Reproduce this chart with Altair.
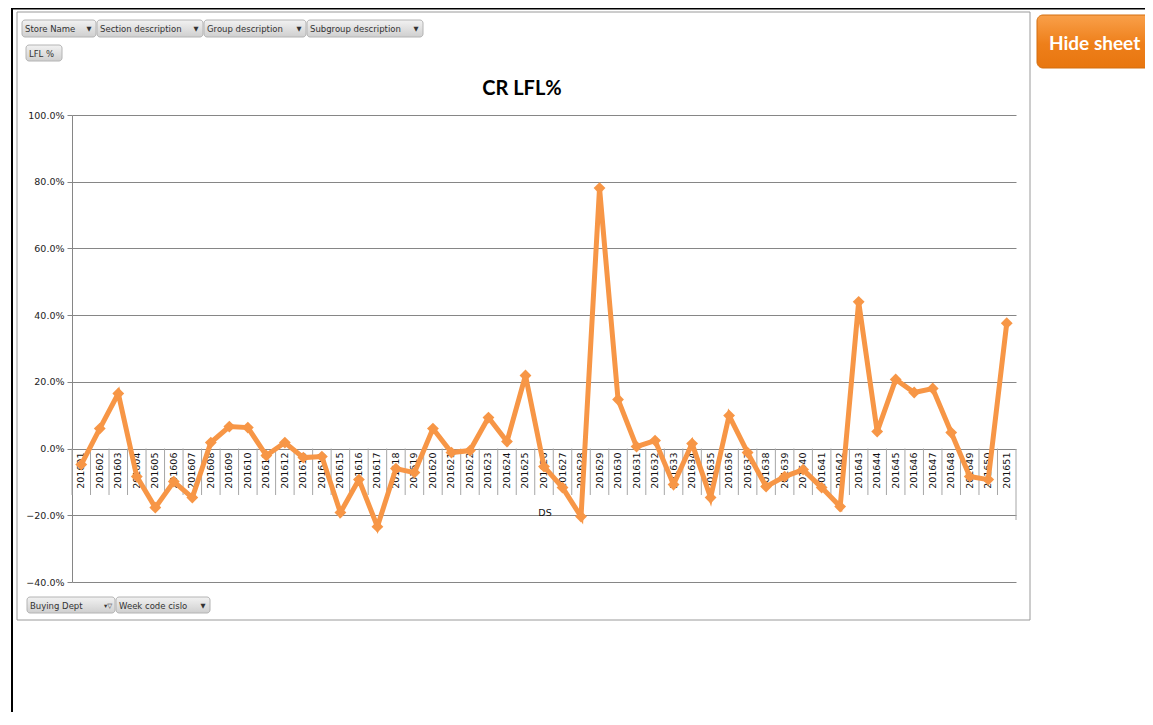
import altair as alt
import pandas as pd

# ---------------- data ----------------
weeks = ["201601", "201602", "201603", "201604", "201605", "201606", "201607",
         "201608", "201609", "201610", "201611", "201612", "201613", "201614",
         "201615", "201616", "201617", "201618", "201619", "201620", "201621",
         "201622", "201623", "201624", "201625", "201626", "201627", "201628",
         "201629", "201630", "201631", "201632", "201633", "201634", "201635",
         "201636", "201637", "201638", "201639", "201640", "201641", "201642",
         "201643", "201644", "201645", "201646", "201647", "201648", "201649",
         "201650", "201651"]
lfl = [-4.8, 6.0, 16.5, -8.4, -17.7, -9.9, -14.7, 1.8, 6.6, 6.3, -2.1, 1.8,
       -2.7, -2.4, -19.2, -9.3, -23.4, -6.0, -7.2, 6.0, -1.2, -0.6, 9.3, 2.1,
       21.9, -5.4, -11.7, -20.4, 78.1, 14.7, 0.6, 2.4, -10.8, 1.5, -14.7, 9.9,
       -1.2, -11.4, -8.4, -6.3, -11.7, -17.4, 44.0, 5.1, 20.7, 16.8, 18.0, 4.8,
       -8.4, -9.3, 37.6]
y_ticks = [-40, -20, 0, 20, 40, 60, 80, 100]
dept = "DS"
chart_title = "CR LFL%"

df = pd.DataFrame({"week": weeks, "value": lfl})

# ---------------- layout ----------------
W, H = 944, 467
OX, OY = 72, 115          # page position of plot origin
ORANGE = "#F79646"
GRID = "#868686"
ZERO_PX = H * 100 / 140   # pixel row of the 0% line

band = alt.Scale(type="band", paddingInner=0, paddingOuter=0)
xenc = alt.X("week:N", sort=weeks, scale=band, axis=None)
yscale = alt.Scale(domain=[-40, 100], nice=False, zero=False)

base = alt.Chart(df)

sep = base.mark_rule(color="#a6a6a6", strokeWidth=1).encode(
    x=alt.X("week:N", sort=weeks, bandPosition=0, scale=band, axis=None),
    y=alt.value(ZERO_PX),
    y2=alt.value(495 - OY),
)

labels = base.mark_text(angle=270, align="right", baseline="middle", dx=-4,
                        font="DejaVu Sans", fontSize=9.5, color="#111111").encode(
    x=xenc, y=alt.value(ZERO_PX), text="week:N")

line = base.mark_line(color=ORANGE, strokeWidth=5, strokeJoin="miter").encode(
    x=xenc,
    y=alt.Y("value:Q", scale=yscale,
            axis=alt.Axis(values=y_ticks,
                          labelExpr="format(datum.value, '.1f') + '%'",
                          grid=True, gridColor=GRID, gridWidth=1,
                          domainColor=GRID, tickColor=GRID, tickSize=5,
                          labelPadding=3, labelFont="DejaVu Sans",
                          labelFontSize=9.5, labelColor="#222222",
                          title=None)),
)
points = base.mark_point(shape="diamond", filled=True, size=140, opacity=1,
                         color=ORANGE).encode(x=xenc, y=alt.Y("value:Q", scale=yscale))

one = alt.Data(values=[{"k": 1}])


def rect(x0, y0, x1, y1, **kw):
    return alt.Chart(one).mark_rect(**kw).encode(
        x=alt.value(x0 - OX), x2=alt.value(x1 - OX),
        y=alt.value(y0 - OY), y2=alt.value(y1 - OY))


def text(x, y, s, **kw):
    return alt.Chart(one).mark_text(**kw).encode(
        x=alt.value(x - OX), y=alt.value(y - OY), text=alt.value(s))


def vrule(x, y0, y1, **kw):
    return alt.Chart(one).mark_rule(**kw).encode(
        x=alt.value(x - OX), y=alt.value(y0 - OY), y2=alt.value(y1 - OY))


def hrule(x0, x1, y, **kw):
    return alt.Chart(one).mark_rule(**kw).encode(
        x=alt.value(x0 - OX), x2=alt.value(x1 - OX), y=alt.value(y - OY))


btn_grad = alt.Gradient(gradient="linear",
                        stops=[alt.GradientStop(color="#f2f2f2", offset=0),
                               alt.GradientStop(color="#cfcfcf", offset=1)],
                        x1=0, y1=0, x2=0, y2=1)


def button(x0, y0, x1, y1, s, arrow="▼"):
    layers = [rect(x0, y0, x1, y1, color=btn_grad, stroke="#b4b4b4",
                   strokeWidth=1, cornerRadius=3),
              text(x0 + 3, (y0 + y1) / 2 + 0.5, s, align="left", baseline="middle",
                   font="DejaVu Sans", fontSize=8.5, color="#333333")]
    if arrow:
        layers.append(text(x1 - 7, (y0 + y1) / 2 + 0.5, arrow, align="center",
                           baseline="middle", font="DejaVu Sans", fontSize=6.5,
                           color="#333333"))
    return layers


orange_grad = alt.Gradient(gradient="linear",
                           stops=[alt.GradientStop(color="#F9A04A", offset=0),
                                  alt.GradientStop(color="#EE7F1A", offset=0.55),
                                  alt.GradientStop(color="#E8760F", offset=1)],
                           x1=0, y1=0, x2=0, y2=1)

deco = []
# window frame
deco.append(hrule(11, 1153, 8.5, color="#000000", strokeWidth=2))
deco.append(vrule(12, 8, 725, color="#000000", strokeWidth=2))
# chart area border
deco.append(rect(17, 12, 1030, 620, fill=None, filled=False, stroke="#9a9a9a",
                 strokeWidth=1))
# hide sheet button
deco.append(rect(1037, 15, 1160, 68, color=orange_grad, cornerRadius=6,
                 stroke="#d36f10", strokeWidth=1))
deco.append(text(1049, 50, "Hide sheet", align="left", baseline="alphabetic",
                 font="Lato", fontWeight="bold", fontSize=19, color="#ffffff"))
# field buttons
deco += button(22, 20, 96, 37, "Store Name")
deco += button(97, 20, 203, 37, "Section description")
deco += button(204, 20, 306, 37, "Group description")
deco += button(307, 20, 423, 37, "Subgroup description")
deco += button(26, 45, 62, 61, "LFL %", arrow=None)
deco += button(27, 597, 115, 613, "Buying Dept", arrow="▾▽")
deco += button(116, 597, 210, 613, "Week code cislo")
# title
deco.append(text(522, 95, chart_title, align="center", baseline="alphabetic",
                 font="Lato", fontWeight="bold", fontSize=20, color="#000000"))
# second-level category label and right edge of label table
deco.append(text(545, 516, dept, align="center", baseline="alphabetic",
                 font="DejaVu Sans", fontSize=9.5, color="#111111"))
deco.append(vrule(1016, 449, 520, color="#a6a6a6", strokeWidth=1))

chart = alt.layer(sep, labels, line, points, *deco).properties(
    width=W, height=H,
    padding={"left": 64, "top": 107, "right": 129, "bottom": 130},
    autosize=alt.AutoSizeParams(type="none"),
    background="#ffffff",
).configure_view(stroke=None)

chart.save("out.html", embed_options={"renderer": "svg", "actions": False})
